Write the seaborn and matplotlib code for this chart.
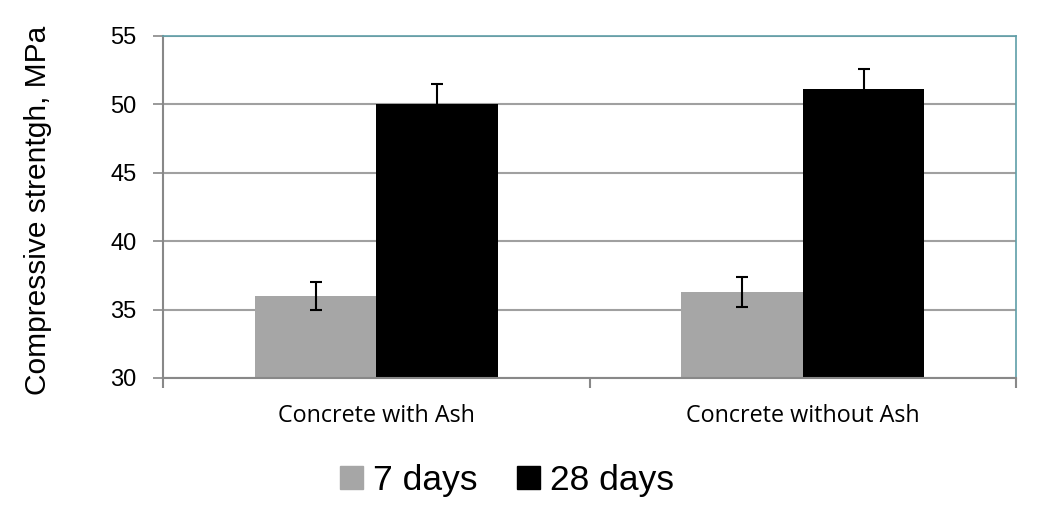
import pandas as pd
import numpy as np
import matplotlib
matplotlib.use('Agg')
import matplotlib.pyplot as plt
import seaborn as sns

# data
mixes = ['Concrete with Ash', 'Concrete without Ash']
ages = ['7 days', '28 days']
strength_7 = [36.0, 36.3]
strength_28 = [50.0, 51.1]
err_7 = [1.05, 1.1]
err_28 = [1.5, 1.5]

df = pd.DataFrame({
    'Mix': mixes * 2,
    'Age': [ages[0]] * 2 + [ages[1]] * 2,
    'Strength': strength_7 + strength_28,
})

sns.set_style('white')
plt.rcParams['font.family'] = ['Liberation Sans', 'DejaVu Sans']
plt.rcParams['text.color'] = 'black'
plt.rcParams['axes.labelcolor'] = 'black'
plt.rcParams['xtick.labelcolor'] = 'black'
plt.rcParams['ytick.labelcolor'] = 'black'

fig = plt.figure(figsize=(10.39, 5.21), dpi=100)
ax = fig.add_axes([0.157, 0.2745, 0.821, 0.6565])

sns.barplot(data=df, x='Mix', y='Strength', hue='Age', hue_order=ages,
            order=mixes, palette=['#a6a6a6', '#000000'], width=0.57,
            saturation=1, ax=ax, legend=False, linewidth=0)

# error bars on top of each bar, positions taken from the drawn bars
for bars, errs in zip(ax.containers, [err_7, err_28]):
    xs = [p.get_x() + p.get_width() / 2 for p in bars]
    ys = [p.get_height() for p in bars]
    ax.errorbar(xs, ys, yerr=errs, fmt='none', ecolor='black',
                elinewidth=1.5, capsize=4, capthick=1.5, zorder=5)

ax.set_ylim(30, 55)
ax.set_xlim(-0.5, 1.5)
ax.set_yticks([30, 35, 40, 45, 50, 55])
ax.yaxis.grid(True, color='#a0a0a0', linewidth=1.5)
ax.set_axisbelow(True)

ax.set_xlabel('')
ax.set_ylabel('Compressive strentgh, MPa', fontsize=21.5, color='black')
ax.yaxis.set_label_coords(-0.13, 0.49)
ax.tick_params(axis='y', labelsize=17, length=7, width=1.2, color='#888888',
               direction='out', left=True, pad=12, labelcolor='black')
ax.tick_params(axis='x', which='major', length=0, pad=19, labelcolor='black')
ax.set_xticks([-0.5, 0.5, 1.5], minor=True)
ax.tick_params(axis='x', which='minor', length=7, width=1.5, color='#888888',
               direction='out', bottom=True)
for lab in ax.get_xticklabels():
    lab.set_fontsize(16.8)
    lab.set_family(['Open Sans', 'DejaVu Sans'])

for side in ['left', 'bottom']:
    ax.spines[side].set_color('#888888')
    ax.spines[side].set_linewidth(1.5)
for side in ['top', 'right']:
    ax.spines[side].set_visible(True)
    ax.spines[side].set_color('#5f9ea8')
    ax.spines[side].set_linewidth(1.2)

handles = [plt.Rectangle((0, 0), 1, 1, color=c) for c in ['#a6a6a6', '#000000']]
fig.legend(handles, ages, loc='center', bbox_to_anchor=(0.488, 0.078), ncol=2,
           frameon=False, fontsize=25.5, handlelength=0.65, handleheight=0.65,
           handletextpad=0.3, columnspacing=1.1, labelcolor='black')

fig.savefig('out.png', dpi=100)
